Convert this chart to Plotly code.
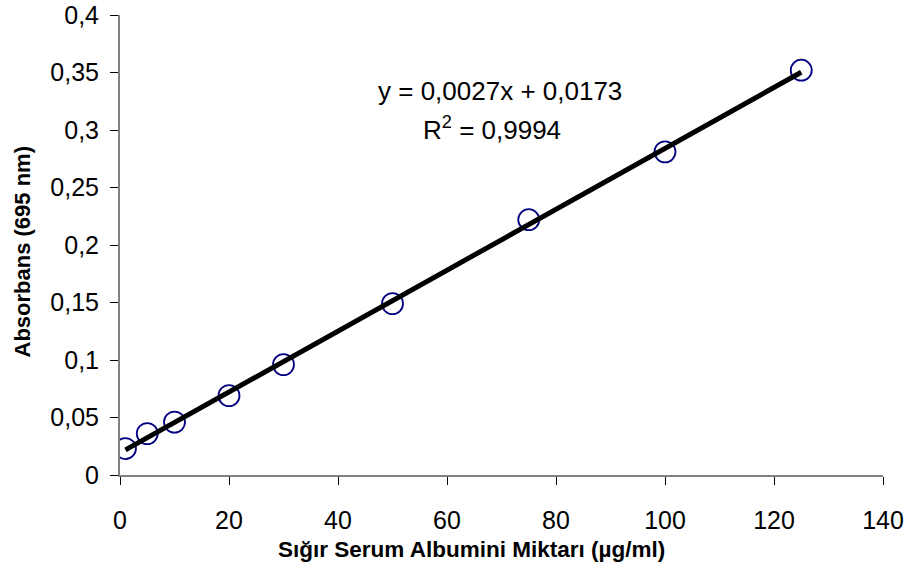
import numpy as np
import plotly.graph_objects as go

# Data
bsa_ug_ml = [1, 5, 10, 20, 30, 50, 75, 100, 125]
absorbance = [0.023, 0.036, 0.046, 0.069, 0.096, 0.149, 0.222, 0.281, 0.352]

x_ticks = [0, 20, 40, 60, 80, 100, 120, 140]
y_ticks = [0, 0.05, 0.1, 0.15, 0.2, 0.25, 0.3, 0.35, 0.4]
y_tick_labels = ["0", "0,05", "0,1", "0,15", "0,2", "0,25", "0,3", "0,35", "0,4"]

x_title = "Sığır Serum Albumini Miktarı (µg/ml)"
y_title = "Absorbans (695 nm)"
equation_text = "y = 0,0027x + 0,0173"
r2_text = "R<sup>2</sup> = 0,9994"

# Linear trendline fitted to the data (spanning min..max of x like Excel)
slope, intercept = np.polyfit(bsa_ug_ml, absorbance, 1)
trend_x = [min(bsa_ug_ml), max(bsa_ug_ml)]
trend_y = [slope * v + intercept for v in trend_x]

FONT = "Liberation Sans, Arial, sans-serif"

fig = go.Figure()
fig.add_trace(go.Scatter(
    x=bsa_ug_ml, y=absorbance, mode="markers",
    marker=dict(symbol="circle-open", size=21, color="#000080",
                line=dict(width=1.8, color="#000080")),
    showlegend=False, hoverinfo="x+y"))
fig.add_trace(go.Scatter(
    x=trend_x, y=trend_y, mode="lines",
    line=dict(color="black", width=5), showlegend=False))

fig.update_layout(
    width=912, height=569,
    margin=dict(l=120, r=29, t=15, b=94, autoexpand=False),
    paper_bgcolor="white", plot_bgcolor="white",
    separators=",.",
    font=dict(family=FONT, size=24, color="black"),
    xaxis=dict(range=[0, 140], tickvals=x_ticks, showgrid=False, zeroline=False,
               showline=True, linecolor="#808080", linewidth=2,
               ticks="outside", ticklen=8, tickwidth=1, tickcolor="black",
               ticklabelstandoff=14, tickfont=dict(size=25), automargin=False),
    yaxis=dict(range=[0, 0.4], tickvals=y_ticks, ticktext=y_tick_labels,
               showgrid=False, zeroline=False,
               showline=True, linecolor="#808080", linewidth=2,
               ticks="outside", ticklen=8, tickwidth=1, tickcolor="black",
               ticklabelstandoff=6, tickfont=dict(size=25), automargin=False),
    annotations=[
        dict(text=equation_text, xref="paper", yref="paper",
             x=(500 - 120) / 763, y=(475 - 91) / 460,
             xanchor="center", yanchor="middle", showarrow=False,
             font=dict(size=26)),
        dict(text=r2_text, xref="paper", yref="paper",
             x=(492 - 120) / 763, y=(475 - 128) / 460,
             xanchor="center", yanchor="middle", showarrow=False,
             font=dict(size=26)),
        dict(text="<b>" + x_title + "</b>", xref="paper", yref="paper",
             x=(471.5 - 120) / 763, y=(475 - 549) / 460,
             xanchor="center", yanchor="middle", showarrow=False,
             font=dict(size=22.5)),
        dict(text="<b>" + y_title + "</b>", xref="paper", yref="paper",
             x=(22 - 120) / 763, y=(475 - 251.5) / 460, textangle=-90,
             xanchor="center", yanchor="middle", showarrow=False,
             font=dict(size=22)),
    ],
)

fig.write_html("out.html")
